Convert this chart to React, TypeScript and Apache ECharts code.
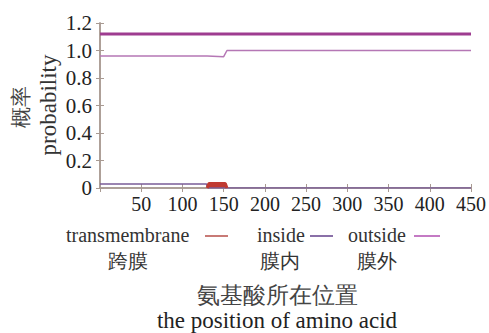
import React, { useEffect, useRef } from "react";
import * as echarts from "echarts";

const topoX = [0, 450];
const topoY = [1.12, 1.12];
const outsideX = [0, 130, 150, 154, 450];
const outsideY = [0.96, 0.96, 0.955, 1.0, 1.0];
const insideX = [0, 129, 131, 450];
const insideY = [0.03, 0.03, 0, 0];
const tmX = [130, 132, 152, 154];
const tmY = [0, 0.032, 0.032, 0];
const xTicks = [50, 100, 150, 200, 250, 300, 350, 400, 450];
const yTicks = [0, 0.2, 0.4, 0.6, 0.8, 1.0, 1.2];
const legendEn = ["transmembrane", "inside", "outside"];
const legendZh = ["跨膜", "膜内", "膜外"];

const pairs = (xs: number[], ys: number[]) => xs.map((x, i) => [x, ys[i]]);

const SERIF = "Liberation Serif";
const FRAME = "#a89a92";

export default function App() {
  const ref = useRef<HTMLDivElement>(null);
  useEffect(() => {
    const chart = echarts.init(ref.current!, null, { renderer: "svg" });
    const axisCommon = {
      axisTick: { show: true, inside: true, length: 4, lineStyle: { color: FRAME } },
      axisLine: { show: true, lineStyle: { color: FRAME, width: 1.5 } },
      splitLine: { show: false },
    };
    const legendTextStyle = { fontFamily: SERIF, fontSize: 20, fill: "#333" };
    chart.setOption({
      animation: false,
      grid: { left: 100, right: 16, top: 23, bottom: 145 },
      xAxis: [
        {
          type: "value", min: 0, max: 450, interval: 50,
          ...axisCommon,
          axisLabel: {
            fontFamily: SERIF, fontSize: 20, color: "#222", margin: 6,
            formatter: (v: number) => (xTicks.includes(v) ? String(v) : ""),
          },
        },
        {
          type: "value", min: 0, max: 450, interval: 50, position: "top",
          ...axisCommon, axisLabel: { show: false },
        },
      ],
      yAxis: [
        {
          type: "value", min: 0, max: 1.2, interval: 0.2,
          ...axisCommon,
          axisLabel: {
            fontFamily: SERIF, fontSize: 21, color: "#222", margin: 8,
            formatter: (v: number) => {
              const t = yTicks.find((k) => Math.abs(k - v) < 1e-6);
              if (t === undefined) return "";
              return t === 0 ? "0" : t.toFixed(1);
            },
          },
        },
        {
          type: "value", min: 0, max: 1.2, interval: 0.2, position: "right",
          ...axisCommon, axisLabel: { show: false },
        },
      ],
      series: [
        {
          name: "topology", type: "line", symbol: "none",
          data: pairs(topoX, topoY),
          lineStyle: { color: "#9e3c90", width: 3 },
        },
        {
          name: legendEn[2], type: "line", symbol: "none",
          data: pairs(outsideX, outsideY),
          lineStyle: { color: "#b577b5", width: 1.5 },
        },
        {
          name: legendEn[1], type: "line", symbol: "none",
          data: pairs(insideX, insideY),
          lineStyle: { color: "#7a5c98", width: 1.5 },
        },
        {
          name: legendEn[0], type: "line", symbol: "none",
          data: pairs(tmX, tmY),
          lineStyle: { color: "#c03a32", width: 3 },
          areaStyle: { color: "#c03a32", opacity: 1 },
        },
      ],
      graphic: [
        { type: "text", x: 21, y: 107, rotation: Math.PI / 2, style: { text: "概率", fontFamily: SERIF, fontSize: 21, fill: "#444", textAlign: "center", textVerticalAlign: "middle" } },
        { type: "text", x: 48, y: 105, rotation: Math.PI / 2, style: { text: "probability", fontFamily: SERIF, fontSize: 23, fill: "#333", textAlign: "center", textVerticalAlign: "middle" } },
        { type: "text", x: 66, y: 235, style: { ...legendTextStyle, text: legendEn[0], textVerticalAlign: "middle" } },
        { type: "line", shape: { x1: 205, y1: 236, x2: 228, y2: 236 }, style: { stroke: "#c87a76", lineWidth: 2 } },
        { type: "text", x: 128, y: 261, style: { ...legendTextStyle, text: legendZh[0], textAlign: "center", textVerticalAlign: "middle" } },
        { type: "text", x: 257, y: 235, style: { ...legendTextStyle, text: legendEn[1], textVerticalAlign: "middle" } },
        { type: "line", shape: { x1: 310, y1: 236, x2: 333, y2: 236 }, style: { stroke: "#8a70a8", lineWidth: 2 } },
        { type: "text", x: 280, y: 261, style: { ...legendTextStyle, text: legendZh[1], textAlign: "center", textVerticalAlign: "middle" } },
        { type: "text", x: 348, y: 235, style: { ...legendTextStyle, text: legendEn[2], textVerticalAlign: "middle" } },
        { type: "line", shape: { x1: 414, y1: 236, x2: 440, y2: 236 }, style: { stroke: "#c47ac4", lineWidth: 2 } },
        { type: "text", x: 377, y: 261, style: { ...legendTextStyle, text: legendZh[2], textAlign: "center", textVerticalAlign: "middle" } },
        { type: "text", x: 277, y: 295, style: { text: "氨基酸所在位置", fontFamily: SERIF, fontSize: 23, fill: "#444", textAlign: "center", textVerticalAlign: "middle" } },
        { type: "text", x: 277, y: 320, style: { text: "the position of amino acid", fontFamily: SERIF, fontSize: 23, fill: "#222", textAlign: "center", textVerticalAlign: "middle" } },
      ],
    });
    return () => chart.dispose();
  }, []);
  return <div ref={ref} style={{ width: 489, height: 333, position: "absolute", left: 0, top: 0 }} />;
}
